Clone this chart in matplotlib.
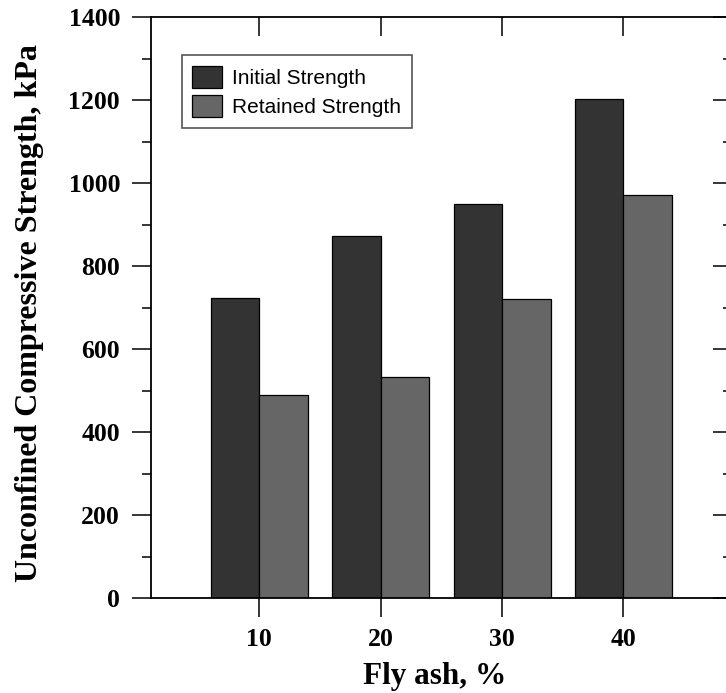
import matplotlib
matplotlib.use("Agg")
import matplotlib.pyplot as plt
import numpy as np
from matplotlib.ticker import MultipleLocator

fly_ash = [10, 20, 30, 40]
initial_strength = [723, 873, 950, 1202]
retained_strength = [490, 533, 720, 972]
series_labels = ["Initial Strength", "Retained Strength"]
x_ticks = [10, 20, 30, 40]
y_ticks = [0, 200, 400, 600, 800, 1000, 1200, 1400]

W, H = 726, 693
fig = plt.figure(figsize=(W / 100, H / 100), dpi=100)
ax = fig.add_axes([151 / W, (H - 598) / H, 581 / W, 581 / H])

x = np.array(fly_ash, dtype=float)
bw = 4.0
ax.bar(x - bw / 2, initial_strength, width=bw, color="#333333",
       edgecolor="black", linewidth=0.9, label=series_labels[0], zorder=2)
ax.bar(x + bw / 2, retained_strength, width=bw, color="#666666",
       edgecolor="black", linewidth=0.9, label=series_labels[1], zorder=2)

ax.set_xlim(1.07, 48.95)
ax.set_ylim(0, 1400)
ax.set_xticks(x_ticks)
ax.set_yticks(y_ticks)
ax.yaxis.set_minor_locator(MultipleLocator(100))

for sp in ax.spines.values():
    sp.set_linewidth(1.3)

serif = "Liberation Serif"
ax.tick_params(axis="x", which="major", direction="out", length=13.7, width=1.1,
               top=True, pad=8)
ax.tick_params(axis="y", which="major", direction="out", length=13.7, width=1.1, pad=8.6)
ax.tick_params(axis="y", which="minor", direction="out", length=6.8, width=1.1)

# top and right ticks point inward
for t in ax.xaxis.get_major_ticks():
    t.tick2line.set_marker(3)  # TICKDOWN
    t.tick2line.set_markersize(13.7)
ax.yaxis.set_tick_params(which="both", right=True)
for t in ax.yaxis.get_major_ticks():
    t.tick2line.set_marker(0)  # TICKLEFT
    t.tick2line.set_markersize(13.7)
for t in ax.yaxis.get_minor_ticks():
    t.tick2line.set_marker(0)
    t.tick2line.set_markersize(6.8)

for lab in ax.get_xticklabels() + ax.get_yticklabels():
    lab.set_fontfamily(serif)
    lab.set_fontweight("bold")
    lab.set_fontsize(18.5)

ax.set_xlabel("Fly ash, %", fontfamily=serif, fontweight="bold", fontsize=22.5)
ax.xaxis.set_label_coords((434.7 - 151) / 581, -0.11)
ax.set_ylabel("Unconfined Compressive Strength, kPa", fontfamily=serif,
              fontweight="bold", fontsize=23)
ax.yaxis.set_label_coords((44 - 151) / 581, 0.49)

leg = ax.legend(loc="upper left", bbox_to_anchor=(0.053, 0.934),
                prop={"family": "Liberation Sans", "size": 15},
                frameon=True, fancybox=False, framealpha=1, borderpad=0.5,
                handlelength=1.44, handleheight=1.3, handletextpad=0.48,
                labelspacing=0.3, borderaxespad=0)
leg.get_frame().set_edgecolor("#555555")
leg.get_frame().set_linewidth(1.2)

fig.savefig("out.png", dpi=100)
